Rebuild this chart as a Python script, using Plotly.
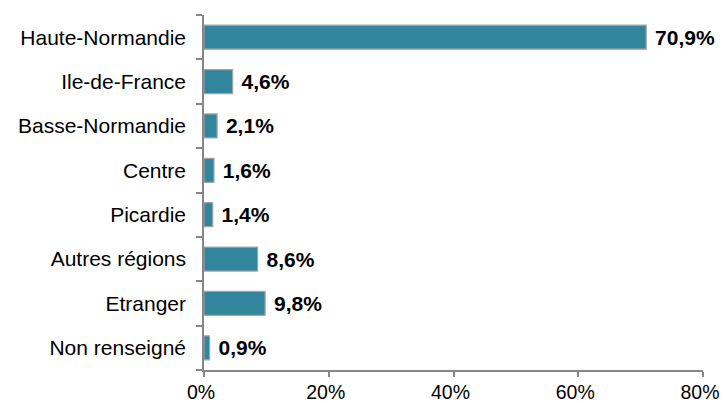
import plotly.graph_objects as go

categories = ["Haute-Normandie", "Ile-de-France", "Basse-Normandie", "Centre",
              "Picardie", "Autres régions", "Etranger", "Non renseigné"]
values = [70.9, 4.6, 2.1, 1.6, 1.4, 8.6, 9.8, 0.9]
tick_vals = [0, 20, 40, 60, 80]
tick_text = ["0%", "20%", "40%", "60%", "80%"]

labels = [" " + f"{v:.1f}%".replace(".", ",") for v in values]

fig = go.Figure(go.Bar(
    x=values, y=categories, orientation="h",
    marker=dict(color="#31859C", line=dict(color="#A6A6A6", width=1.2)),
    width=0.54,
    text=labels, textposition="outside", cliponaxis=False,
    textfont=dict(family="Liberation Sans", size=21, color="black", weight="bold"),
))

fig.update_layout(
    width=724, height=403,
    margin=dict(l=204, r=21, t=15, b=33),
    paper_bgcolor="white", plot_bgcolor="white",
    font=dict(family="Liberation Sans", size=20, color="black"),
    showlegend=False,
)
fig.update_xaxes(range=[0, 80], tickvals=tick_vals, ticktext=tick_text,
                 showgrid=False, zeroline=False, showline=True,
                 linecolor="#868686", linewidth=1.5, ticks="outside",
                 tickcolor="#868686", ticklen=5, tickwidth=1.5,
                 ticklabelstandoff=-1, ticklabelshift=-3, automargin=False,
                 tickfont=dict(size=19.5))
fig.update_yaxes(categoryorder="array", categoryarray=categories[::-1],
                 showgrid=False, zeroline=False, showline=True,
                 linecolor="#868686", linewidth=1.5, ticks="outside",
                 tickson="boundaries", tickcolor="#868686", ticklen=6,
                 tickwidth=1.5, ticklabelstandoff=12, automargin=False,
                 tickfont=dict(size=21))

fig.write_html(
    "out.html",
    config={"displayModeBar": False},
    post_script="document.body.style.margin='0';document.body.style.overflow='hidden';",
)
